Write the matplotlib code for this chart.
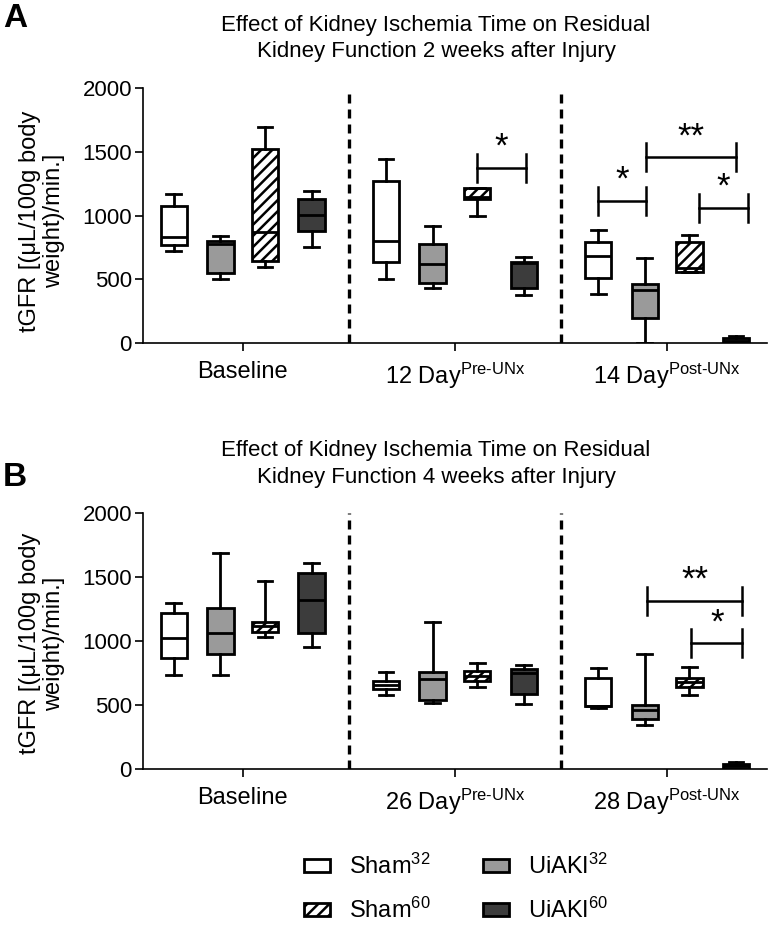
import matplotlib
matplotlib.use('Agg')
import matplotlib.pyplot as plt
from matplotlib.patches import Patch

plt.rcParams['font.family'] = ['Liberation Sans', 'DejaVu Sans']
plt.rcParams['mathtext.fontset'] = 'custom'
plt.rcParams['mathtext.rm'] = 'Liberation Sans'
plt.rcParams['mathtext.it'] = 'Liberation Sans:italic'
plt.rcParams['mathtext.bf'] = 'Liberation Sans:bold'
plt.rcParams['hatch.linewidth'] = 1.8

# группы (порядок внутри каждой временной точки)
GROUPS = ['Sham$^{32}$', 'UiAKI$^{32}$', 'Sham$^{60}$', 'UiAKI$^{60}$']
FACES = ['white', '#9a9a9a', 'white', '#3c3c3c']
HATCHES = ['', '', '///', '']
OFFSETS = [-0.325, -0.105, 0.105, 0.325]

# панель A: [временная точка][группа]
A_TICKS = ['Baseline', r'12 Day$^{\text{Pre-UNx}}$', r'14 Day$^{\text{Post-UNx}}$']
A_whislo = [[724, 504, 601, 753], [502, 431, 998, 379], [384, 5, 555, 0]]
A_q1 = [[771, 549, 648, 883], [638, 476, 1129, 431], [515, 201, 562, 0]]
A_med = [[836, 775, 870, 1009], [805, 622, 1150, 630], [687, 418, 590, 20]]
A_q3 = [[1077, 805, 1524, 1129], [1276, 781, 1216, 638], [792, 463, 794, 39]]
A_whishi = [[1171, 842, 1694, 1197], [1445, 922, 1216, 674], [886, 667, 847, 57]]
# скобки значимости: x1, x2, y, метка
A_SIG = [(1.104, 1.336, 1377, '*'), (1.675, 1.901, 1119, '*'),
         (1.901, 2.324, 1459, '**'), (2.151, 2.382, 1059, '*')]

# панель B
B_TICKS = ['Baseline', r'26 Day$^{\text{Pre-UNx}}$', r'28 Day$^{\text{Post-UNx}}$']
B_whislo = [[739, 739, 1036, 955], [580, 515, 641, 508], [475, 346, 578, 0]]
B_q1 = [[870, 901, 1070, 1062], [625, 541, 688, 588], [490, 391, 641, 0]]
B_med = [[1026, 1062, 1120, 1325], [660, 708, 730, 755], [495, 463, 680, 25]]
B_q3 = [[1224, 1258, 1154, 1536], [690, 760, 771, 781], [713, 500, 713, 39]]
B_whishi = [[1297, 1687, 1474, 1609], [763, 1148, 828, 812], [794, 901, 797, 55]]
B_SIG = [(1.907, 2.355, 1318, '**'), (2.113, 2.355, 984, '*')]

FS = 16
FS_BIG = 17
LW = 2.0


def draw_panel(ax, whislo, q1, med, q3, whishi, ticks, sig):
    stats, pos = [], []
    for t in range(3):
        for g in range(4):
            stats.append(dict(whislo=whislo[t][g], q1=q1[t][g], med=med[t][g],
                              q3=q3[t][g], whishi=whishi[t][g], fliers=[]))
            pos.append(t + OFFSETS[g])
    bp = ax.bxp(stats, positions=pos, widths=0.125, capwidths=0.07,
                patch_artist=True, showfliers=False, manage_ticks=False,
                boxprops=dict(linewidth=LW, edgecolor='black'),
                whiskerprops=dict(linewidth=LW, color='black'),
                capprops=dict(linewidth=LW, color='black'),
                medianprops=dict(linewidth=LW, color='black'))
    for i, box in enumerate(bp['boxes']):
        box.set_facecolor(FACES[i % 4])
        box.set_hatch(HATCHES[i % 4])

    for xd in (0.5, 1.5):
        ax.axvline(xd, color='black', lw=2.4, linestyle=(0, (2.7, 1.8)))

    for x1, x2, y, lab in sig:
        ax.plot([x1, x2], [y, y], color='black', lw=1.8)
        ax.plot([x1, x1], [y - 110, y + 110], color='black', lw=1.8)
        ax.plot([x2, x2], [y - 110, y + 110], color='black', lw=1.8)
        ax.annotate(lab, ((x1 + x2) / 2, y), xytext=(0, 3), textcoords='offset points',
                    ha='center', va='bottom', fontsize=25)

    ax.set_xlim(-0.47, 2.47)
    ax.set_ylim(0, 2000)
    ax.set_yticks([0, 500, 1000, 1500, 2000])
    ax.set_xticks([0, 1, 2])
    ax.set_xticklabels(ticks, fontsize=FS_BIG)
    ax.tick_params(axis='y', labelsize=FS, length=6, width=1.2, pad=2)
    ax.tick_params(axis='x', length=6, width=1.2, pad=7)
    for s in ('top', 'right'):
        ax.spines[s].set_visible(False)
    for s in ('left', 'bottom'):
        ax.spines[s].set_linewidth(1.2)


fig = plt.figure(figsize=(7.73, 9.30), dpi=100)
axA = fig.add_axes([0.185, 0.631, 0.807, 0.274])
axB = fig.add_axes([0.185, 0.173, 0.807, 0.275])

draw_panel(axA, A_whislo, A_q1, A_med, A_q3, A_whishi, A_TICKS, A_SIG)
draw_panel(axB, B_whislo, B_q1, B_med, B_q3, B_whishi, B_TICKS, B_SIG)

fig.text(0.564, 0.959, 'Effect of Kidney Ischemia Time on Residual\nKidney Function 2 weeks after Injury',
         ha='center', va='center', fontsize=FS, linespacing=1.3)
fig.text(0.564, 0.501, 'Effect of Kidney Ischemia Time on Residual\nKidney Function 4 weeks after Injury',
         ha='center', va='center', fontsize=FS, linespacing=1.4)

ylab = 'tGFR [(μL/100g body\nweight)/min.]'
fig.text(0.054, 0.762, ylab, rotation=90, ha='center', va='center', fontsize=FS_BIG,
         multialignment='center', linespacing=1.1)
fig.text(0.054, 0.308, ylab, rotation=90, ha='center', va='center', fontsize=FS_BIG,
         multialignment='center', linespacing=1.1)

fig.text(0.004, 0.997, 'A', fontsize=24, fontweight='bold', va='top', ha='left')
fig.text(0.004, 0.503, 'B', fontsize=24, fontweight='bold', va='top', ha='left')

order = [0, 2, 1, 3]
handles = [Patch(facecolor=FACES[g], edgecolor='black', hatch=HATCHES[g], linewidth=LW) for g in order]
labels = [GROUPS[g] for g in order]
fig.legend(handles, labels, loc='center', bbox_to_anchor=(0.59, 0.045), ncol=2,
           frameon=False, fontsize=FS_BIG, handlelength=1.1, handleheight=0.5,
           handletextpad=0.8, columnspacing=2.2, labelspacing=0.8)

fig.savefig('out.png', dpi=100)
